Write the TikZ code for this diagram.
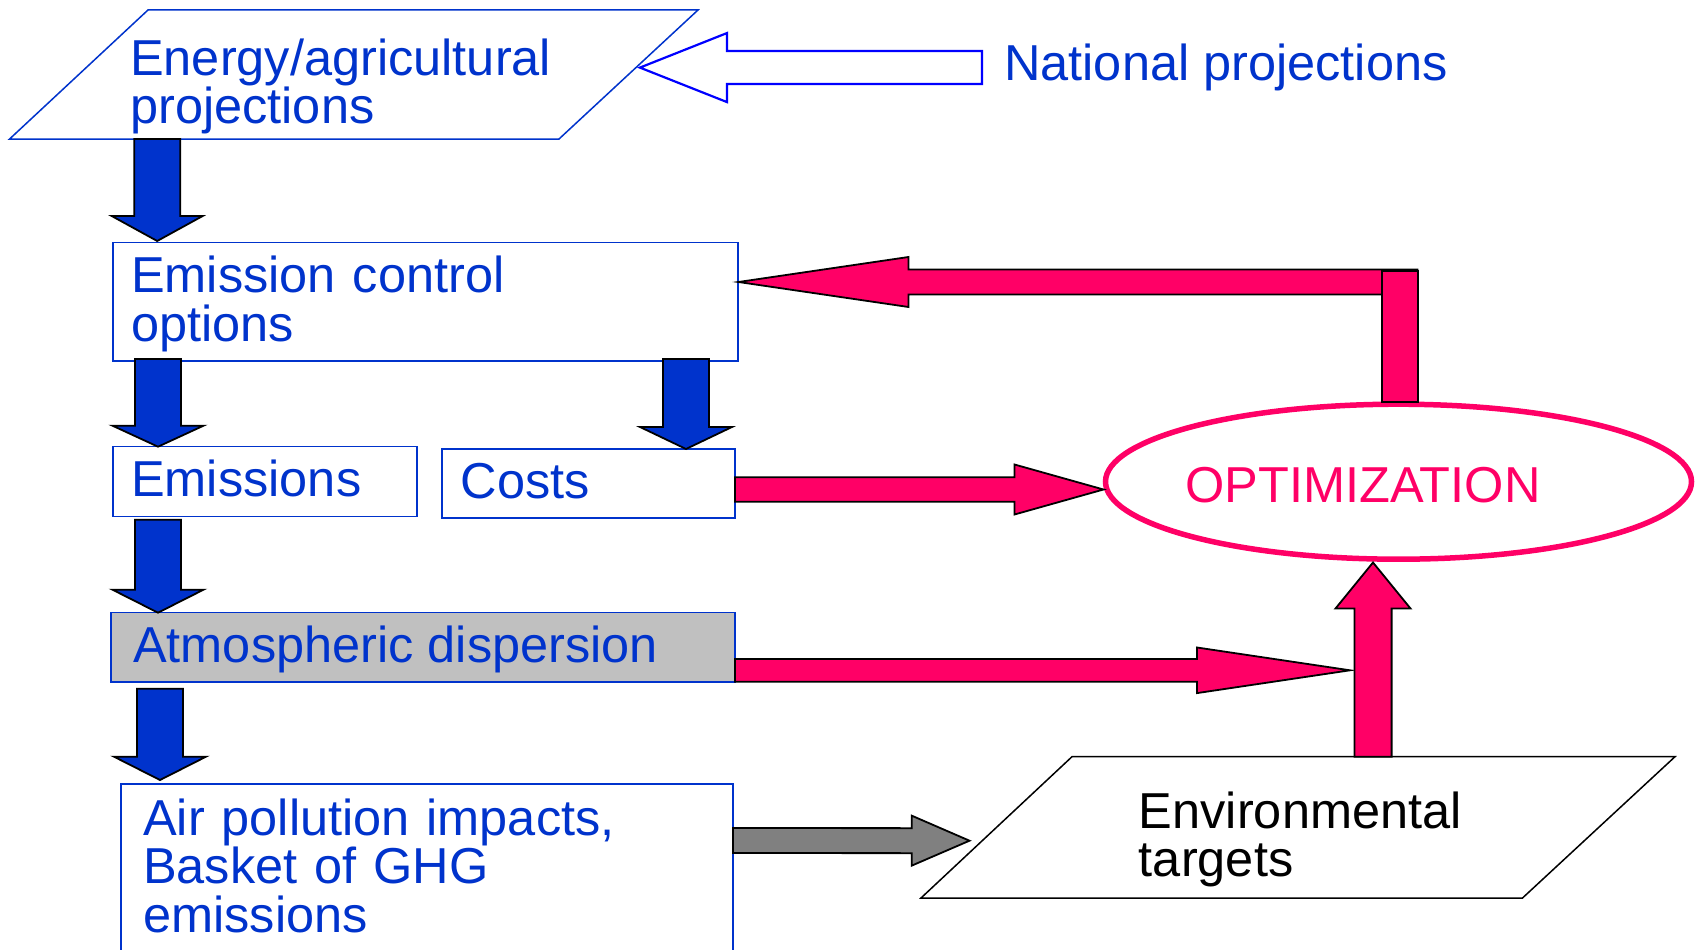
\documentclass[tikz,border=0pt]{standalone}
\usepackage{fontspec}
\setmainfont{Liberation Sans}
\usetikzlibrary{calc,shapes.geometric}
\definecolor{blueA}{HTML}{0033CC}
\definecolor{pinkA}{HTML}{FF0066}
\definecolor{grayA}{HTML}{808080}
\definecolor{grayB}{HTML}{C0C0C0}
\definecolor{hollowblue}{HTML}{0000FF}
% #1 style, #2 start, #3 tip, #4 shaft half width, #5 head half width, #6 head length
\newcommand\blockarrow[6]{%
  \coordinate (bkb) at ($(#3)!#6!(#2)$);
  \draw[#1] ($(#2)!#4!90:(#3)$) -- ($(bkb)!#4!90:(#3)$) -- ($(bkb)!#5!90:(#3)$)
    -- (#3) -- ($(bkb)!#5!-90:(#3)$) -- ($(bkb)!#4!-90:(#3)$) -- ($(#2)!#4!-90:(#3)$) -- cycle;
}
\begin{document}
\begin{tikzpicture}[x=1pt,y=-1pt,
  box/.style={draw=blueA, line width=1.5pt, fill=white, inner sep=0pt, outer sep=0pt, anchor=north west},
  bluearr/.style={fill=blueA, draw=black, line width=1.8pt, line join=miter},
  pinkarr/.style={fill=pinkA, draw=black, line width=1.8pt, line join=miter},
  grayarr/.style={fill=grayA, draw=black, line width=1.8pt, line join=miter},
  hollowarr/.style={fill=white, draw=hollowblue, line width=2.2pt, line join=miter},
  para/.style={line width=1.5pt, fill=white},
  txt/.style={inner sep=0pt, anchor=base west, font=\fontsize{50.5}{48.7}\selectfont, text=blueA, align=left}]
\useasboundingbox (0,0) rectangle (1706,950);
\fill[white] (0,0) rectangle (1706,950);

% boxes
\node[box, minimum width=625pt, minimum height=118.5pt] (ecb) at (113,242.5) {};
\node[box, minimum width=304pt, minimum height=70pt] (em) at (113,446.7) {};
\node[box, minimum width=293pt, minimum height=69pt] (co) at (442,449) {};
\node[box, fill=grayB, minimum width=624pt, minimum height=69.3pt] (atm) at (111,612.7) {};
\node[box, minimum width=612pt, minimum height=200pt] (air) at (121,784) {};
\node[ellipse, draw=pinkA, line width=5.5pt, minimum width=586pt, minimum height=155pt, inner sep=0pt, outer sep=0pt] (opt) at (1398.5,481.7) {};

% parallelograms
\coordinate (epTL) at (148,10); \coordinate (epTR) at (698,10);
\coordinate (epBR) at (559,139); \coordinate (epBL) at (9.6,139);
\draw[para, draw=blueA] (epTL) -- (epTR) -- (epBR) -- (epBL) -- cycle;
\coordinate (evTL) at (1072,756.7); \coordinate (evTR) at (1675,756.7);
\coordinate (evBR) at (1522.5,898); \coordinate (evBL) at (921,898);
\draw[para, draw=black] (evTL) -- (evTR) -- (evBR) -- (evBL) -- cycle;

% texts
\node[txt, text width=600pt] (tEn) at (130,75) {Energy/agricultural\\projections};
\node[txt] (tNat) at (1004,81) {National projections};
\node[txt, text width=600pt] (tEcb) at (131,292.7) {Emission control\\options};
\node[txt] (tEm) at (131,496.7) {Emissions};
\node[txt] (tCo) at (460.5,498) {Costs};
\node[txt] (tAtm) at (133,662.7) {Atmospheric dispersion};
\node[txt, text width=600pt] (tAir) at (143,835) {Air pollution impacts,\\Basket of GHG\\emissions};
\node[txt, text=pinkA] (tOpt) at (1185,502.7) {OPTIMIZATION};
\node[txt, text=black, text width=500pt] (tEnv) at (1138.7,828) {Environmental\\targets};

% blue down arrows
\coordinate (a1s) at ($(ecb.north west |- epBL)+(44.2,0)$);
\coordinate (a1e) at ($(ecb.north west)+(44.2,-1.5)$);
\blockarrow{bluearr}{a1s}{a1e}{23pt}{45.5pt}{25pt}
\coordinate (a2s) at ($(ecb.south west)+(45,-2)$);
\coordinate (a2e) at ($(em.north west)+(45,0)$);
\blockarrow{bluearr}{a2s}{a2e}{23pt}{45.5pt}{21pt}
\coordinate (a3s) at ($(ecb.south west)+(573,-2)$);
\coordinate (a3e) at ($(co.north west)+(244,0)$);
\blockarrow{bluearr}{a3s}{a3e}{23pt}{46pt}{22pt}
\coordinate (a4s) at ($(em.south west)+(45,3)$);
\coordinate (a4e) at ($(atm.north west)+(47,0)$);
\blockarrow{bluearr}{a4s}{a4e}{23pt}{45.5pt}{23pt}
\coordinate (a5s) at ($(atm.south west)+(49,6.7)$);
\coordinate (a5e) at ($(air.north west)+(39,-4)$);
\blockarrow{bluearr}{a5s}{a5e}{23pt}{46pt}{23.3pt}

% hollow arrow from national projections
\coordinate (a11s) at ($(tNat.base west)+(-22,-13.5)$);
\coordinate (a11e) at ($($(epTR)!0.4465!(epBR)$)+(4,0)$);
\blockarrow{hollowarr}{a11s}{a11e}{16.5pt}{34.5pt}{87pt}

% pink arrows
\coordinate (a6s) at ($(co.south east)+(0,-28.5)$);
\coordinate (a6e) at ($(opt.west)+(-2,7.8)$);
\blockarrow{pinkarr}{a6s}{a6e}{12.2pt}{25pt}{89pt}
\coordinate (a8s) at ($(evTL)+(301,0)$);
\coordinate (a8e) at ($(opt.south)+(-25.5,3.3)$);
\coordinate (a7s) at ($(atm.south east)+(0,-11.7)$);
\coordinate (a7e) at ($(a7s -| a8s)+(-23,0)$);
\blockarrow{pinkarr}{a7s}{a7e}{11.4pt}{22.8pt}{153pt}
\blockarrow{pinkarr}{a8s}{a8e}{18.6pt}{37.5pt}{46pt}
\coordinate (a10e) at ($(ecb.east)+(0.5,-19.75)$);
\coordinate (a10s) at ($(opt.north |- a10e)+(19,0)$);
\blockarrow{pinkarr}{a10s}{a10e}{12.5pt}{25pt}{170pt}
\draw[pinkarr] ($(opt.north)+(-16.2,-2.5)$) rectangle ($(opt.north)+(19.2,-133.5)$);

% gray arrow
\coordinate (a9s) at ($(air.north east)+(0,56.5)$);
\coordinate (a9e) at ($(evBL)+(48.5,-57.3)$);
\blockarrow{grayarr}{a9s}{a9e}{12.5pt}{25pt}{57.8pt}
\end{tikzpicture}
\end{document}
